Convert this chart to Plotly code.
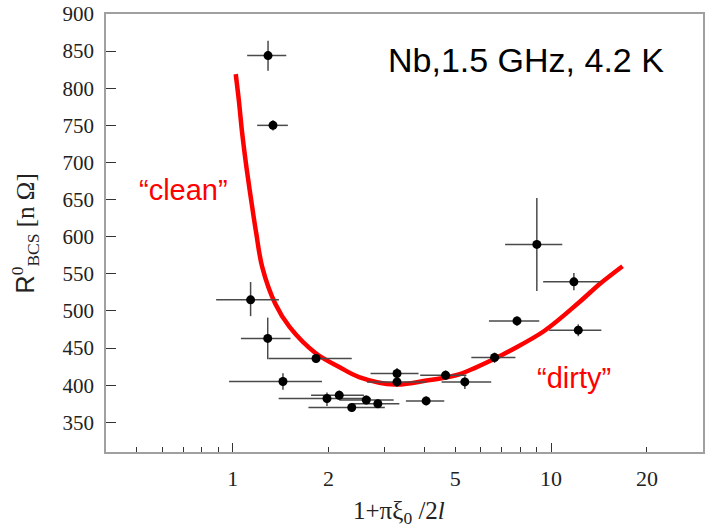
import plotly.graph_objects as go

# ---- data points (x = 1+pi*xi0/2l, y = R0_BCS in nOhm) ----
x_vals = [1.291, 1.338, 1.138, 1.288, 1.827, 1.438, 1.977, 2.160, 2.365, 2.627, 2.856,
          3.281, 3.281, 4.662, 5.358, 4.050, 6.644, 9.018, 11.79, 7.813, 12.17]
y_vals = [844, 750, 515, 463, 436, 405, 382, 386.5, 370, 380, 375,
          415.7, 404.4, 413.4, 404.4, 378.8, 437.3, 589.6, 539.2, 486.6, 474.1]
x_lo = [1.110, 1.193, 0.887, 1.061, 1.295, 0.974, 1.394, 1.762, 1.729, 2.160, 2.371,
        2.710, 2.640, 3.880, 4.530, 3.499, 5.616, 7.170, 9.44, 6.378, 9.858]
x_hi = [1.473, 1.490, 1.397, 1.519, 2.365, 1.907, 2.716, 2.583, 3.004, 3.203, 3.337,
        3.833, 4.059, 5.420, 6.484, 4.618, 7.725, 10.84, 14.27, 9.177, 14.38]
y_lo = [823.6, 743, 493, 435, 430, 394, 372, 380, 364, 374, 370,
        408, 398, 407, 395, 373, 430, 527, 528, 480, 466]
y_hi = [864, 757, 539, 491, 442, 416, 390, 393, 376, 386, 381,
        423, 411, 420, 412, 385, 444, 652, 551, 493, 482]

# ---- red model curve ----
curve_x = [1.022, 1.045, 1.071, 1.104, 1.143, 1.186, 1.238, 1.359, 1.508, 1.827, 2.160,
           2.493, 3.243, 4.118, 4.75, 5.229, 6.644, 7.40, 9.51, 12.2, 14.27, 16.76]
curve_y = [819, 784, 739, 694, 649, 604, 559, 510, 478.5, 442.7, 424.6,
           411, 400.9, 406.7, 411, 415.7, 435.5, 446, 473, 511, 537, 560.3]

x_tick_vals = [1, 2, 5, 10, 20]
x_tick_text = ["1", "2", "5", "10", "20"]
x_decades = [1, 10]
x_minor = [0.5, 0.6, 0.7, 0.8, 0.9, 3, 4, 6, 7, 8, 9]
y_tick_vals = [350, 400, 450, 500, 550, 600, 650, 700, 750, 800, 850, 900]

serif = "Liberation Serif, Times New Roman, serif"
sans = "Liberation Sans, Arial, sans-serif"

fig = go.Figure()

fig.add_trace(go.Scatter(
    x=curve_x, y=curve_y, mode="lines",
    line=dict(color="#ff0000", width=4.5, shape="spline", smoothing=1.0),
    hoverinfo="skip", showlegend=False))

fig.add_trace(go.Scatter(
    x=x_vals, y=y_vals, mode="markers",
    marker=dict(color="black", size=9),
    error_x=dict(type="data", symmetric=False,
                 array=[h - v for h, v in zip(x_hi, x_vals)],
                 arrayminus=[v - l for v, l in zip(x_vals, x_lo)],
                 color="#4a4a4a", thickness=1.5, width=0),
    error_y=dict(type="data", symmetric=False,
                 array=[h - v for h, v in zip(y_hi, y_vals)],
                 arrayminus=[v - l for v, l in zip(y_vals, y_lo)],
                 color="#4a4a4a", thickness=1.5, width=0),
    showlegend=False))

# invisible trace on overlay axis for long decade ticks
fig.add_trace(go.Scatter(x=[1], y=[350], xaxis="x2", mode="markers",
                         marker=dict(opacity=0), hoverinfo="skip", showlegend=False))

fig.update_layout(
    width=706, height=530,
    margin=dict(l=106, r=1, t=14, b=78),
    paper_bgcolor="white", plot_bgcolor="white",
    xaxis=dict(type="log", range=[-0.398, 1.477],
               tickmode="array", tickvals=x_tick_vals, ticktext=x_tick_text,
               ticks="inside", ticklen=5, tickwidth=1.3, tickcolor="#333",
               showline=True, linecolor="#a0a0a0", linewidth=1.5, mirror=True,
               showgrid=False, zeroline=False,
               tickfont=dict(family=serif, size=22, color="#222"),
               ticklabelstandoff=6,
               minor=dict(tickmode="array", tickvals=x_minor, ticks="inside",
                          ticklen=5, tickwidth=1.3, tickcolor="#333", showgrid=False)),
    xaxis2=dict(type="log", range=[-0.398, 1.477], overlaying="x", anchor="y",
                side="bottom", tickmode="array", tickvals=x_decades,
                ticks="inside", ticklen=9, tickwidth=1.3, tickcolor="#333",
                showticklabels=False, showgrid=False, zeroline=False, showline=False),
    yaxis=dict(range=[310, 900], tickmode="array", tickvals=y_tick_vals,
               ticks="inside", ticklen=10, tickwidth=1.3, tickcolor="#333",
               showline=True, linecolor="#a0a0a0", linewidth=1.5, mirror=True,
               showgrid=False, zeroline=False,
               tickfont=dict(family=serif, size=21, color="#222"),
               ticklabelstandoff=6),
    annotations=[
        dict(text="Nb,1.5 GHz, 4.2 K", xref="paper", yref="paper",
             x=0.469, y=0.895, xanchor="left", yanchor="middle", showarrow=False,
             font=dict(family=sans, size=34, color="black")),
        dict(text="\u201cclean\u201d", xref="paper", yref="paper",
             x=0.052, y=0.598, xanchor="left", yanchor="middle", showarrow=False,
             font=dict(family=sans, size=29, color="#ff0000")),
        dict(text="\u201cdirty\u201d", xref="paper", yref="paper",
             x=0.718, y=0.169, xanchor="left", yanchor="middle", showarrow=False,
             font=dict(family=sans, size=29, color="#ff0000")),
        dict(text="1+\u03c0\u03be<sub>0</sub> /2<i>l</i>", xref="paper", yref="paper",
             x=0.491, y=-0.137, xanchor="center", yanchor="middle", showarrow=False,
             font=dict(family=serif, size=25, color="#222")),
        dict(text="<span style='font-family:Liberation Sans'>R</span><sup>0</sup><sub>BCS</sub> [n \u03a9]",
             xref="paper", yref="paper", x=-0.135, y=0.5, textangle=-90,
             xanchor="center", yanchor="middle", showarrow=False,
             font=dict(family=serif, size=25, color="#222")),
    ],
)

fig.write_html("out.html", config={"displayModeBar": False},
               post_script="document.body.style.margin='0';document.body.style.overflow='hidden';")
